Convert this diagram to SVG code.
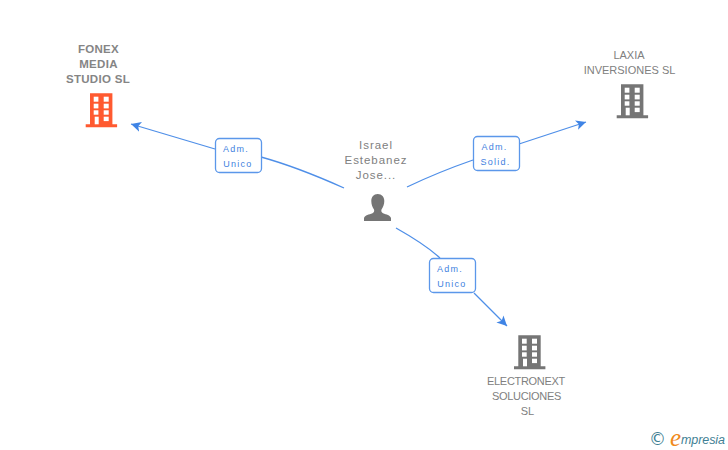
<svg xmlns="http://www.w3.org/2000/svg" width="728" height="450" viewBox="0 0 728 450">
<style>
.t{font-family:"Liberation Sans",Arial,sans-serif;font-size:11px;fill:#808080;text-anchor:middle}
.b{font-weight:bold;font-size:11.5px;fill:#858585;letter-spacing:.3px}
.n{letter-spacing:-.3px}
.p{letter-spacing:.95px;font-size:11.5px}
.l{font-family:"Liberation Sans",Arial,sans-serif;font-size:9px;fill:#3f7fe0;text-anchor:middle;letter-spacing:1.25px}
.box{fill:#fff;stroke:#5b97ea;stroke-width:1.3}
.c{fill:none;stroke:#4f8fe8;stroke-width:1.3}
</style>
<defs>
<marker id="a" markerUnits="userSpaceOnUse" markerWidth="12" markerHeight="12" refX="10" refY="5" orient="auto" viewBox="0 0 12 10">
<path d="M0 0L10 5L0 10L2.500 5Z" fill="#3f84e5"/>
</marker>
<g id="bld">
<path d="M4.300 0H26.700V31H31.400V34H0V31H4.300Z"/>
<g fill="#fff">
<rect x="8" y="3.400" width="4.700" height="5"/><rect x="18" y="3.400" width="5" height="5"/>
<rect x="8" y="10.400" width="4.700" height="4.700"/><rect x="18" y="10.400" width="5" height="4.700"/>
<rect x="8" y="17" width="4.700" height="4.400"/><rect x="18" y="17" width="5" height="4.400"/>
<rect x="9" y="23.400" width="4" height="7.600"/><rect x="18" y="23.400" width="5" height="4.400"/>
</g>
</g>
</defs>
<g id="connectors">
<path class="c" d="M344 188C315 175 290 165 261 157"/>
<path class="c" d="M215 149L131 124" marker-end="url(#a)"/>
<path class="c" d="M407 187C430 176 450 168 473 160"/>
<path class="c" d="M519 144L586 122" marker-end="url(#a)"/>
<path class="c" d="M396 228C412 237 428 247 440 258"/>
<path class="c" d="M474 293L507 326" marker-end="url(#a)"/>
</g>
<g id="node-fonex">
<text class="t b" x="98.500" y="53">FONEX</text>
<text class="t b" x="98.500" y="68">MEDIA</text>
<text class="t b" x="98" y="83">STUDIO SL</text>
<use href="#bld" x="85.700" y="93.300" fill="#ff5a30"/>
</g>
<g id="node-laxia">
<text class="t" x="629" y="59">LAXIA</text>
<text class="t" x="629.500" y="74">INVERSIONES SL</text>
<use href="#bld" x="616.700" y="84.300" fill="#757575"/>
</g>
<g id="node-electronext">
<use href="#bld" x="514" y="335.300" fill="#757575"/>
<text class="t n" x="526" y="385">ELECTRONEXT</text>
<text class="t n" x="526.500" y="400">SOLUCIONES</text>
<text class="t" x="527.500" y="415">SL</text>
</g>
<g id="node-israel">
<text class="t p" x="376" y="149">Israel</text>
<text class="t p" x="376" y="164">Estebanez</text>
<text class="t p" x="376" y="179">Jose...</text>
<path fill="#757575" d="M377.700 194C381.800 194 384.300 197 384.300 201C384.300 204.500 383 207.500 381.500 209.500C381 211.500 381.500 212.500 383 213.200C386.500 214.500 390 215 391 218V221H364V218C365 215 369 214.500 372.500 213.200C374 212.500 374.500 211.500 374 209.500C372.500 207.500 371.300 204.500 371.300 201C371.300 197 373.700 194 377.700 194Z"/>
</g>
<g id="label-1">
<rect class="box" x="215.500" y="138.500" width="46" height="34" rx="4"/>
<text class="l" x="236" y="152">Adm.</text>
<text class="l" x="238" y="167">Unico</text>
</g>
<g id="label-2">
<rect class="box" x="473.500" y="136.500" width="46" height="34" rx="4"/>
<text class="l" x="494.500" y="150">Adm.</text>
<text class="l" x="495.500" y="165">Solid.</text>
</g>
<g id="label-3">
<rect class="box" x="429.500" y="258.500" width="46" height="34" rx="4"/>
<text class="l" x="450" y="272">Adm.</text>
<text class="l" x="452" y="287">Unico</text>
</g>
<g id="logo">
<text x="657.500" y="445" font-family="'DejaVu Sans',sans-serif" font-size="17" fill="#3f7f94" text-anchor="middle">©</text>
<text x="670" y="446" font-family="'Liberation Serif',serif" font-style="italic" font-size="25" fill="#f08a1c">e</text>
<text x="681" y="444" font-family="'Liberation Sans',sans-serif" font-style="italic" font-size="12.500" fill="#3f7f94" textLength="44">mpresia</text>
</g>
</svg>
